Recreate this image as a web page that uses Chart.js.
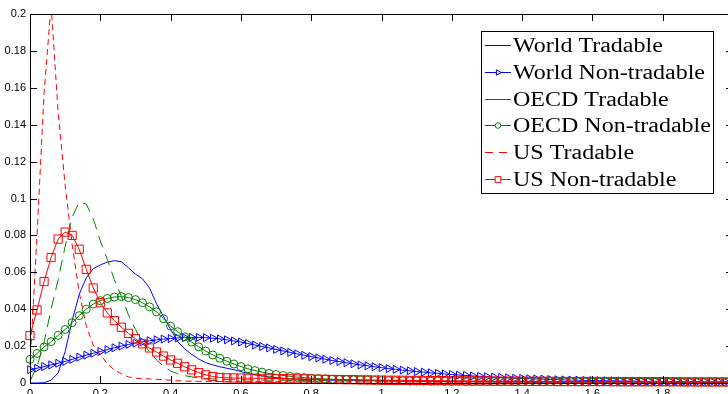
<!DOCTYPE html>
<html>
<head>
<meta charset="utf-8">
<script src="https://cdn.jsdelivr.net/npm/chart.js@4/dist/chart.umd.min.js"></script>
<style>
  html, body { margin: 0; padding: 0; background: #fff; overflow: hidden; }
  #wrap { width: 760px; height: 410px; }
</style>
</head>
<body>
<div id="wrap"><canvas id="density" width="760" height="410"></canvas></div>
<script>
// x grid of the kernel densities, 0 to 2 in steps of 0.02
const xs = [
    0, 0.02, 0.04, 0.06, 0.08, 0.1, 0.12, 0.14, 0.16, 0.18,
    0.2, 0.22, 0.24, 0.26, 0.28, 0.3, 0.32, 0.34, 0.36, 0.38,
    0.4, 0.42, 0.44, 0.46, 0.48, 0.5, 0.52, 0.54, 0.56, 0.58,
    0.6, 0.62, 0.64, 0.66, 0.68, 0.7, 0.72, 0.74, 0.76, 0.78,
    0.8, 0.82, 0.84, 0.86, 0.88, 0.9, 0.92, 0.94, 0.96, 0.98,
    1, 1.02, 1.04, 1.06, 1.08, 1.1, 1.12, 1.14, 1.16, 1.18,
    1.2, 1.22, 1.24, 1.26, 1.28, 1.3, 1.32, 1.34, 1.36, 1.38,
    1.4, 1.42, 1.44, 1.46, 1.48, 1.5, 1.52, 1.54, 1.56, 1.58,
    1.6, 1.62, 1.64, 1.66, 1.68, 1.7, 1.72, 1.74, 1.76, 1.78,
    1.8, 1.82, 1.84, 1.86, 1.88, 1.9, 1.92, 1.94, 1.96, 1.98,
    2
];

const worldTradable = [
    0, 0, 0.0002, 0.0015, 0.0055, 0.017, 0.034, 0.048, 0.057, 0.062,
    0.064, 0.0655, 0.0663, 0.0657, 0.0625, 0.059, 0.0565, 0.0515, 0.043, 0.036,
    0.029, 0.0225, 0.0185, 0.0155, 0.013, 0.011, 0.0098, 0.0088, 0.008, 0.0072,
    0.0062, 0.0052, 0.0044, 0.0038, 0.0033, 0.0029, 0.0026, 0.0023, 0.0021, 0.0019,
    0.0018, 0.0017, 0.0016, 0.0015, 0.0015, 0.0014, 0.0013, 0.0013, 0.0012, 0.0012,
    0.0011, 0.0011, 0.001, 0.001, 0.001, 0.0009, 0.0009, 0.0009, 0.0008, 0.0008,
    0.0008, 0.0008, 0.0007, 0.0007, 0.0007, 0.0007, 0.0006, 0.0006, 0.0006, 0.0006,
    0.0006, 0.0005, 0.0005, 0.0005, 0.0005, 0.0005, 0.0005, 0.0005, 0.0005, 0.0005,
    0.0005, 0.0005, 0.0005, 0.0004, 0.0004, 0.0004, 0.0004, 0.0004, 0.0004, 0.0004,
    0.0004, 0.0004, 0.0004, 0.0004, 0.0004, 0.0004, 0.0003, 0.0003, 0.0003, 0.0003,
    0.0003
];

const worldNonTradable = [
    0.0072, 0.008, 0.0089, 0.0098, 0.0107, 0.0117, 0.0128, 0.014, 0.0151, 0.0161,
    0.0171, 0.0181, 0.0191, 0.02, 0.0209, 0.0216, 0.0223, 0.0229, 0.0234, 0.0238,
    0.0241, 0.0244, 0.0246, 0.0247, 0.0247, 0.0246, 0.0243, 0.0239, 0.0234, 0.0228,
    0.0222, 0.0214, 0.0206, 0.0198, 0.019, 0.0182, 0.0174, 0.0166, 0.0158, 0.015,
    0.0143, 0.0136, 0.0129, 0.0122, 0.0116, 0.011, 0.0104, 0.0098, 0.0093, 0.0088,
    0.0083, 0.0078, 0.0074, 0.007, 0.0066, 0.0062, 0.0059, 0.0055, 0.0052, 0.0049,
    0.0046, 0.0043, 0.0041, 0.0038, 0.0036, 0.0034, 0.0032, 0.003, 0.0028, 0.0026,
    0.0025, 0.0023, 0.0022, 0.0021, 0.0019, 0.0018, 0.0017, 0.0016, 0.0015, 0.0014,
    0.0013, 0.0013, 0.0012, 0.0012, 0.0011, 0.0011, 0.001, 0.001, 0.0009, 0.0009,
    0.0008, 0.0008, 0.0008, 0.0007, 0.0007, 0.0007, 0.0006, 0.0006, 0.0006, 0.0005,
    0.0005
];

const oecdTradable = [
    0.001, 0.009, 0.022, 0.04, 0.056, 0.074, 0.09, 0.098, 0.097, 0.089,
    0.077, 0.067, 0.056, 0.047, 0.037, 0.029, 0.022, 0.017, 0.0125, 0.009,
    0.0065, 0.005, 0.004, 0.0033, 0.0028, 0.0024, 0.0022, 0.002, 0.0019, 0.0018,
    0.0017, 0.0017, 0.0016, 0.0016, 0.0015, 0.0015, 0.0015, 0.0014, 0.0014, 0.0014,
    0.0013, 0.0013, 0.0013, 0.0012, 0.0012, 0.0012, 0.0011, 0.0011, 0.0011, 0.001,
    0.001, 0.001, 0.001, 0.0009, 0.0009, 0.0009, 0.0009, 0.0008, 0.0008, 0.0008,
    0.0008, 0.0008, 0.0007, 0.0007, 0.0007, 0.0007, 0.0007, 0.0007, 0.0007, 0.0007,
    0.0007, 0.0007, 0.0007, 0.0006, 0.0006, 0.0006, 0.0006, 0.0006, 0.0006, 0.0006,
    0.0006, 0.0006, 0.0006, 0.0006, 0.0006, 0.0006, 0.0005, 0.0005, 0.0005, 0.0005,
    0.0005, 0.0005, 0.0005, 0.0005, 0.0005, 0.0005, 0.0004, 0.0004, 0.0004, 0.0004,
    0.0004
];

const oecdNonTradable = [
    0.0128, 0.016, 0.0195, 0.0224, 0.0258, 0.029, 0.0327, 0.0365, 0.04, 0.0428,
    0.0446, 0.0458, 0.0466, 0.0468, 0.0463, 0.0452, 0.0435, 0.0413, 0.0386, 0.0348,
    0.0308, 0.0278, 0.025, 0.0222, 0.0196, 0.0173, 0.0152, 0.0134, 0.0118, 0.0103,
    0.0089, 0.0077, 0.0067, 0.0059, 0.0052, 0.0046, 0.0041, 0.0036, 0.0032, 0.0029,
    0.0026, 0.0024, 0.0022, 0.002, 0.0019, 0.0018, 0.0017, 0.0016, 0.0015, 0.0014,
    0.0013, 0.0013, 0.0012, 0.0012, 0.0011, 0.0011, 0.001, 0.001, 0.001, 0.0009,
    0.0009, 0.0009, 0.0008, 0.0008, 0.0008, 0.0008, 0.0007, 0.0007, 0.0007, 0.0007,
    0.0007, 0.0007, 0.0007, 0.0007, 0.0007, 0.0006, 0.0006, 0.0006, 0.0006, 0.0006,
    0.0006, 0.0006, 0.0006, 0.0006, 0.0006, 0.0005, 0.0005, 0.0005, 0.0005, 0.0005,
    0.0005, 0.0005, 0.0005, 0.0005, 0.0005, 0.0004, 0.0004, 0.0004, 0.0004, 0.0004,
    0.0004
];

const usTradable = [
    0.01, 0.08, 0.157, 0.205, 0.147, 0.107, 0.075, 0.049, 0.031, 0.0205,
    0.0155, 0.0105, 0.007, 0.005, 0.0033, 0.0026, 0.0024, 0.0022, 0.002, 0.0018,
    0.0015, 0.0012, 0.001, 0.001, 0.0009, 0.0009, 0.0009, 0.0008, 0.0008, 0.0008,
    0.0007, 0.0007, 0.0007, 0.0007, 0.0007, 0.0007, 0.0006, 0.0006, 0.0006, 0.0006,
    0.0006, 0.0006, 0.0006, 0.0006, 0.0005, 0.0005, 0.0005, 0.0005, 0.0005, 0.0005,
    0.0005, 0.0005, 0.0005, 0.0005, 0.0005, 0.0005, 0.0004, 0.0004, 0.0004, 0.0004,
    0.0004, 0.0004, 0.0004, 0.0004, 0.0004, 0.0004, 0.0003, 0.0003, 0.0003, 0.0003,
    0.0003, 0.0003, 0.0003, 0.0003, 0.0003, 0.0003, 0.0003, 0.0003, 0.0003, 0.0003,
    0.0003, 0.0003, 0.0003, 0.0003, 0.0003, 0.0002, 0.0002, 0.0002, 0.0002, 0.0002,
    0.0002, 0.0002, 0.0002, 0.0002, 0.0002, 0.0002, 0.0002, 0.0002, 0.0002, 0.0002,
    0.0002
];

const usNonTradable = [
    0.0257, 0.0396, 0.055, 0.068, 0.078, 0.0818, 0.08, 0.0725, 0.0616, 0.0515,
    0.0435, 0.038, 0.0338, 0.0302, 0.0269, 0.024, 0.0212, 0.019, 0.0168, 0.0146,
    0.0125, 0.0107, 0.0088, 0.0071, 0.0056, 0.0044, 0.0035, 0.003, 0.0028, 0.0027,
    0.0027, 0.0026, 0.0026, 0.0025, 0.0025, 0.0024, 0.0024, 0.0023, 0.0022, 0.0022,
    0.0021, 0.002, 0.002, 0.0019, 0.0019, 0.0018, 0.0018, 0.0017, 0.0017, 0.0016,
    0.0016, 0.0015, 0.0015, 0.0015, 0.0014, 0.0014, 0.0014, 0.0013, 0.0013, 0.0013,
    0.0012, 0.0012, 0.0012, 0.0011, 0.0011, 0.0011, 0.001, 0.001, 0.001, 0.001,
    0.0009, 0.0009, 0.0009, 0.0009, 0.0009, 0.0008, 0.0008, 0.0008, 0.0008, 0.0008,
    0.0008, 0.0008, 0.0008, 0.0007, 0.0007, 0.0007, 0.0007, 0.0007, 0.0007, 0.0007,
    0.0007, 0.0007, 0.0007, 0.0006, 0.0006, 0.0006, 0.0006, 0.0006, 0.0006, 0.0006,
    0.0006
];

const xTicks = [0, 0.2, 0.4, 0.6, 0.8, 1, 1.2, 1.4, 1.6, 1.8, 2];
const yTicks = [0, 0.02, 0.04, 0.06, 0.08, 0.1, 0.12, 0.14, 0.16, 0.18, 0.2];

const BLUE = '#0000ff';
const GREEN = '#008000';
const RED = '#ff0000';

function toPoints(ys) {
    return xs.map((x, i) => ({ x: x, y: ys[i] }));
}

function series(label, ys, color, opts) {
    return Object.assign({
        label: label,
        data: toPoints(ys),
        borderColor: color,
        backgroundColor: 'transparent',
        borderWidth: 1,
        pointRadius: 0,
        pointBorderColor: color,
        pointBackgroundColor: 'transparent',
        pointBorderWidth: 1,
        tension: 0,
        clip: { left: 8, top: 0, right: 8, bottom: 8 }
    }, opts);
}

const datasets = [
    series('World Tradable', worldTradable, BLUE, { order: 6 }),
    series('World Non-tradable', worldNonTradable, BLUE, { order: 5, pointStyle: 'triangle', pointRotation: 90, pointRadius: 4.6 }),
    series('OECD Tradable', oecdTradable, GREEN, { order: 4, borderDash: [12, 7] }),
    series('OECD Non-tradable', oecdNonTradable, GREEN, { order: 3, pointStyle: 'circle', pointRadius: 4 }),
    series('US Tradable', usTradable, RED, { order: 2, borderDash: [6, 4] }),
    series('US Non-tradable', usNonTradable, RED, { order: 1, pointStyle: 'rect', pointRadius: 5.8 })
];

// legend sample dash per row (the OECD sample shows up solid in the original)
const legendDash = [[], [], [], [], [8, 6], []];

// matlab style box: inward ticks on all four sides
const boxTicks = {
    id: 'boxTicks',
    afterDatasetsDraw(chart) {
        const { ctx, chartArea, scales } = chart;
        const len = 7;
        ctx.save();
        ctx.strokeStyle = '#000';
        ctx.lineWidth = 1;
        ctx.beginPath();
        ctx.rect(chartArea.left + 0.5, chartArea.top + 0.5, chartArea.right - chartArea.left, chartArea.bottom - chartArea.top);
        xTicks.forEach(v => {
            const px = Math.round(scales.x.getPixelForValue(v)) + 0.5;
            ctx.moveTo(px, chartArea.bottom);
            ctx.lineTo(px, chartArea.bottom - len);
            ctx.moveTo(px, chartArea.top);
            ctx.lineTo(px, chartArea.top + len);
        });
        yTicks.forEach(v => {
            const py = Math.round(scales.y.getPixelForValue(v)) + 0.5;
            ctx.moveTo(chartArea.left, py);
            ctx.lineTo(chartArea.left + len, py);
            ctx.moveTo(chartArea.right, py);
            ctx.lineTo(chartArea.right - len, py);
        });
        ctx.stroke();
        ctx.restore();
    }
};

function drawMarker(ctx, ds, x, y) {
    const r = ds.pointRadius;
    ctx.beginPath();
    if (ds.pointStyle === 'triangle') {
        ctx.moveTo(x + r, y);
        ctx.lineTo(x - r / 2, y - r * 0.866);
        ctx.lineTo(x - r / 2, y + r * 0.866);
        ctx.closePath();
    } else if (ds.pointStyle === 'circle') {
        ctx.arc(x, y, r, 0, Math.PI * 2);
    } else if (ds.pointStyle === 'rect') {
        const s = r * Math.SQRT1_2;
        ctx.rect(x - s, y - s, 2 * s, 2 * s);
    }
    ctx.fillStyle = '#fff';
    ctx.fill();
    ctx.stroke();
}

const boxLegend = {
    id: 'boxLegend',
    afterDraw(chart) {
        const ctx = chart.ctx;
        const bx = 481, by = 31, bw = 232, bh = 162;
        ctx.save();
        ctx.fillStyle = '#fff';
        ctx.fillRect(bx, by, bw, bh);
        ctx.strokeStyle = '#000';
        ctx.lineWidth = 1;
        ctx.strokeRect(bx + 0.5, by + 0.5, bw, bh);
        chart.data.datasets.forEach((ds, i) => {
            const y = Math.round(45 + i * 26.75) + 0.5;
            ctx.strokeStyle = ds.borderColor;
            ctx.lineWidth = 1;
            ctx.setLineDash(legendDash[i]);
            ctx.beginPath();
            ctx.moveTo(485, y);
            ctx.lineTo(511, y);
            ctx.stroke();
            ctx.setLineDash([]);
            if (ds.pointRadius > 0) {
                drawMarker(ctx, Object.assign({}, ds, { pointRadius: ds.pointRadius * 0.7 }), 498, y);
            }
            ctx.save();
            ctx.translate(513, y);
            ctx.scale(1.2, 1);
            ctx.fillStyle = '#000';
            ctx.font = '20px "Liberation Serif", "Times New Roman", serif';
            ctx.textBaseline = 'middle';
            ctx.fillText(ds.label, 0, 1);
            ctx.restore();
        });
        ctx.restore();
    }
};

const tickFont = { family: '"Liberation Sans", Arial, sans-serif', size: 11 };

new Chart(document.getElementById('density'), {
    type: 'line',
    data: { datasets: datasets },
    plugins: [boxTicks, boxLegend],
    options: {
        responsive: false,
        animation: false,
        devicePixelRatio: 1,
        layout: { padding: { left: 0, top: 14, right: 27, bottom: 7 } },
        plugins: {
            legend: { display: false },
            tooltip: { enabled: false }
        },
        scales: {
            x: {
                type: 'linear',
                min: 0,
                max: 2,
                afterFit: scale => { scale.height = 20; },
                afterBuildTicks: scale => { scale.ticks = xTicks.map(v => ({ value: v })); },
                grid: { display: false, drawTicks: false },
                border: { display: false },
                ticks: {
                    padding: 4,
                    color: '#000',
                    font: tickFont,
                    maxRotation: 0,
                    autoSkip: false,
                    callback: v => String(+v.toFixed(2))
                }
            },
            y: {
                min: 0,
                max: 0.2,
                afterFit: scale => { scale.width = 30; },
                afterBuildTicks: scale => { scale.ticks = yTicks.map(v => ({ value: v })); },
                grid: { display: false, drawTicks: false },
                border: { display: false },
                ticks: {
                    padding: 4,
                    color: '#000',
                    font: tickFont,
                    autoSkip: false,
                    callback: v => String(+v.toFixed(2))
                }
            }
        }
    }
});
</script>
</body>
</html>
